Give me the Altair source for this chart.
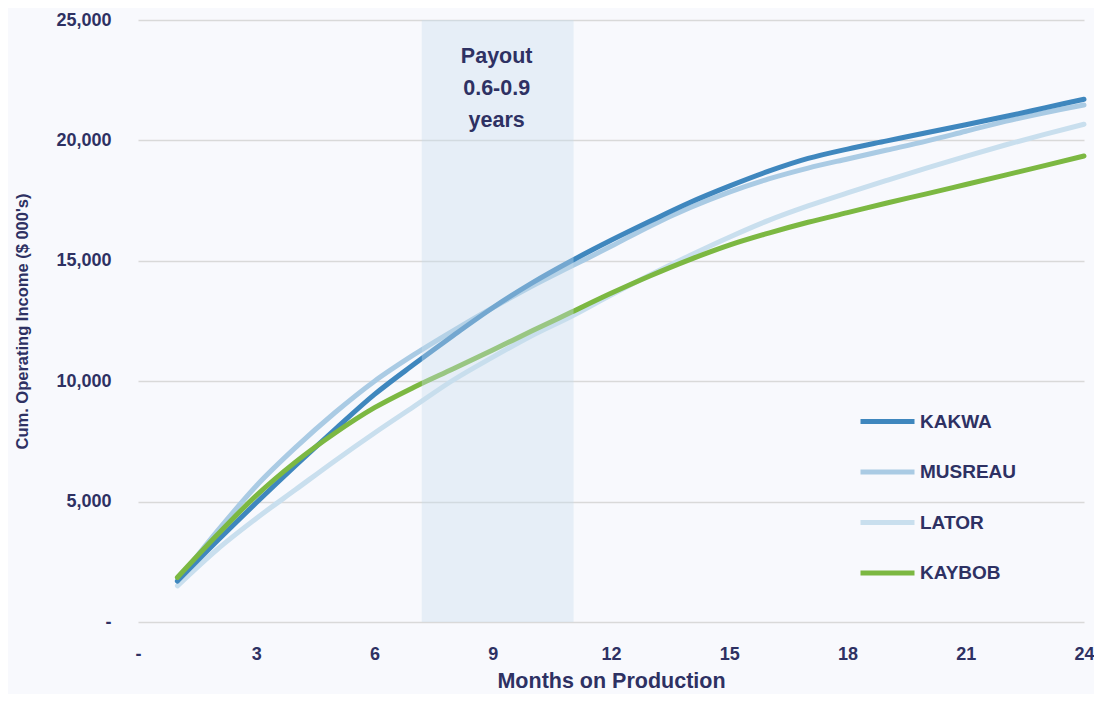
import altair as alt
import pandas as pd

months = list(range(1, 25))
series_names = ["KAKWA", "MUSREAU", "LATOR", "KAYBOB"]
series_colors = ["#3f87be", "#aacbe4", "#c9dfee", "#7cb842"]

kakwa = [1700, 3350, 4950, 6500, 8000, 9450, 10700, 11900, 13050, 14080, 15000, 15850,
         16650, 17420, 18100, 18720, 19250, 19640, 19980, 20320, 20650, 20990, 21350, 21710]
musreau = [1700, 3750, 5650, 7250, 8700, 10000, 11100, 12100, 13050, 13950, 14780, 15600,
           16450, 17200, 17850, 18400, 18850, 19230, 19600, 19970, 20380, 20790, 21150, 21470]
lator = [1500, 3000, 4300, 5500, 6700, 7850, 8950, 10050, 11000, 11900, 12700, 13580,
         14420, 15220, 15980, 16680, 17280, 17820, 18340, 18850, 19340, 19810, 20250, 20670]
kaybob = [1850, 3600, 5250, 6650, 7850, 8900, 9750, 10520, 11300, 12090, 12870, 13650,
          14380, 15050, 15650, 16150, 16600, 17000, 17400, 17780, 18170, 18560, 18950, 19350]

band_start = [7.2]
band_end = [11.05]
band_text = ["Payout\n0.6-0.9\nyears"]
band_text_x = [9.1]
band_text_y = [23470]

x_ticks = [0, 3, 6, 9, 12, 15, 18, 21, 24]
y_ticks = [0, 5000, 10000, 15000, 20000, 25000]

NAVY = "#2e3163"
FONT = "Liberation Sans"

rows = []
for name, vals in zip(series_names, [kakwa, musreau, lator, kaybob]):
    for m, v in zip(months, vals):
        rows.append({"series": name, "month": m, "value": v})
df = pd.DataFrame(rows)

x_enc = alt.X(
    "month:Q",
    scale=alt.Scale(domain=[0, 24], nice=False, zero=False),
    axis=alt.Axis(
        values=x_ticks,
        labelExpr="datum.value == 0 ? '-\u00a0\u00a0\u00a0' : datum.label",
        grid=False, domain=False, ticks=False, labelFlush=False,
        labelPadding=23, labelFont=FONT, labelFontSize=18, labelFontWeight="bold",
        labelColor=NAVY, title="Months on Production", titleFont=FONT,
        titleFontSize=21.5, titleFontWeight="bold", titleColor=NAVY, titlePadding=7,
    ),
)
y_enc = alt.Y(
    "value:Q",
    scale=alt.Scale(domain=[0, 25000], nice=False),
    axis=alt.Axis(
        values=y_ticks,
        labelExpr="datum.value == 0 ? '-\u00a0\u00a0' : format(datum.value, ',')",
        grid=True, gridColor="#d9d9d9", gridWidth=1.5, domain=False, ticks=False,
        labelFlush=False,
        labelPadding=27, labelFont=FONT, labelFontSize=18, labelFontWeight="bold",
        labelColor=NAVY, title="Cum. Operating Income ($ 000's)", titleFont=FONT,
        titleFontSize=16.5, titleFontWeight="bold", titleColor=NAVY, titlePadding=25,
    ),
)
color_enc = alt.Color(
    "series:N",
    scale=alt.Scale(domain=series_names, range=series_colors),
    legend=alt.Legend(
        orient="none", legendX=720, legendY=372, title=None,
        symbolType="stroke", symbolStrokeWidth=5, symbolSize=2916,
        labelFont=FONT, labelFontSize=19, labelFontWeight="bold", labelColor=NAVY,
        labelOffset=3, rowPadding=10.5,
    ),
)

draw_order = ["LATOR", "MUSREAU", "KAKWA", "KAYBOB"]
line_layers = []
for name in draw_order:
    line_layers.append(
        alt.Chart(df)
        .transform_filter(alt.datum.series == name)
        .mark_line(strokeWidth=5, strokeCap="round", interpolate="monotone")
        .encode(x=x_enc, y=y_enc, color=color_enc)
    )

band_df = pd.DataFrame({"start": band_start, "end": band_end})
band = alt.Chart(band_df).mark_rect(color="#c8dcec", opacity=0.38).encode(
    x="start:Q", x2="end:Q", y=alt.value(0), y2=alt.value(602)
)

text_df = pd.DataFrame({"x": band_text_x, "y": band_text_y, "t": band_text})
label = alt.Chart(text_df).mark_text(
    font=FONT, fontSize=21.5, fontWeight="bold", color=NAVY,
    lineBreak="\n", lineHeight=32, align="center", baseline="middle",
).encode(x="x:Q", y="y:Q", text="t:N")

chart = alt.layer(*line_layers, band, label).properties(
    width=946, height=602,
    padding={"left": 130, "top": 12, "right": 10, "bottom": 72},
    autosize=alt.AutoSizeParams(type="none"),
    background="#f8f9fd",
).configure_view(stroke=None)

chart.save("out.html", embed_options={"renderer": "svg", "actions": False})
